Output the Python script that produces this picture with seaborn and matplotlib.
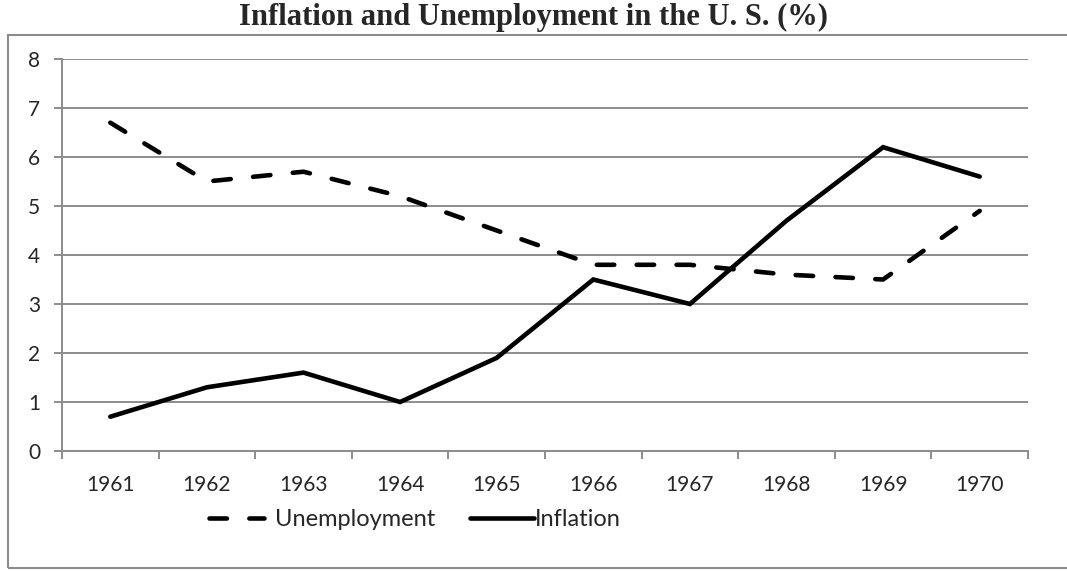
import matplotlib
matplotlib.use("Agg")
import matplotlib.pyplot as plt
from matplotlib.patches import Rectangle
from matplotlib.lines import Line2D
import seaborn as sns
import pandas as pd

years = ["1961", "1962", "1963", "1964", "1965", "1966", "1967", "1968", "1969", "1970"]
unemployment = [6.7, 5.5, 5.7, 5.2, 4.5, 3.8, 3.8, 3.6, 3.5, 4.9]
inflation = [0.7, 1.3, 1.6, 1.0, 1.9, 3.5, 3.0, 4.7, 6.2, 5.6]
series_names = ["Unemployment", "Inflation"]
y_ticks = [0, 1, 2, 3, 4, 5, 6, 7, 8]

positions = list(range(len(years)))
df = pd.DataFrame({
    "pos": positions * 2,
    "value": unemployment + inflation,
    "series": [series_names[0]] * len(years) + [series_names[1]] * len(years),
})

sns.set_style("white")
plt.rcParams["font.family"] = ["Lato", "DejaVu Sans"]

GRID = "#8c8c8c"
LW = 3.3
DASH = (3.8, 4.9)
W, H = 1067, 571

fig = plt.figure(figsize=(W / 100, H / 100), dpi=100)
ax = fig.add_axes([62 / W, 1 - 451 / H, (1028 - 62) / W, (451 - 59) / H])

sns.lineplot(
    data=df, x="pos", y="value", hue="series", style="series",
    palette={"Unemployment": "black", "Inflation": "black"},
    dashes={"Unemployment": DASH, "Inflation": ""},
    hue_order=series_names, style_order=series_names,
    linewidth=LW, legend=False, ax=ax,
)
for ln in ax.get_lines():
    ln.set_dash_capstyle("round")
    ln.set_solid_capstyle("round")
    ln.set_solid_joinstyle("miter")

ax.set_xlim(-0.5, len(years) - 0.5)
ax.set_ylim(0, 8)
ax.set_yticks(y_ticks)
ax.set_yticklabels([str(t) for t in y_ticks])
ax.set_xticks(positions)
ax.set_xticklabels(years)
ax.set_xticks([p - 0.5 for p in positions] + [len(years) - 0.5], minor=True)
ax.set_xlabel("")
ax.set_ylabel("")

ax.grid(axis="y", color=GRID, linewidth=1.4)
ax.set_axisbelow(True)
for side in ["top", "right"]:
    ax.spines[side].set_visible(False)
for side in ["left", "bottom"]:
    ax.spines[side].set_color(GRID)
    ax.spines[side].set_linewidth(1.4)

ax.tick_params(axis="y", which="major", direction="out", length=5.8, width=1.4,
               color=GRID, labelsize=15, pad=10, left=True)
ax.tick_params(axis="x", which="major", length=0, labelsize=15, pad=17)
ax.tick_params(axis="x", which="minor", direction="out", length=5.8, width=1.4,
               color=GRID, bottom=True)

fig.text(0.5, 1 - 17 / H, "Inflation and Unemployment in the U. S. (%)",
         family="Liberation Serif", fontweight="bold", fontsize=22,
         ha="center", va="center")

# legend: two entries laid out side by side below the axes
leg_y = 1 - 520 / H
leg_fs = 17
h_unemp = Line2D([], [], color="black", linewidth=LW, dashes=DASH,
                 dash_capstyle="round")
h_infl = Line2D([], [], color="black", linewidth=LW, solid_capstyle="round")
fig.legend([h_unemp], [series_names[0]], loc="center left", frameon=False,
           bbox_to_anchor=(209 / W, leg_y), fontsize=leg_fs,
           handlelength=2.35, handletextpad=0.45,
           borderpad=0, borderaxespad=0)
fig.legend([h_infl], [series_names[1]], loc="center left", frameon=False,
           bbox_to_anchor=(470 / W, leg_y), fontsize=leg_fs,
           handlelength=2.7, handletextpad=0.05,
           borderpad=0, borderaxespad=0)

fig.patches.append(Rectangle((8 / W, 1 - 568 / H), 1.2, (568 - 35) / H,
                             transform=fig.transFigure, fill=False,
                             edgecolor=GRID, linewidth=1.5))

fig.savefig("out.png", dpi=100)
